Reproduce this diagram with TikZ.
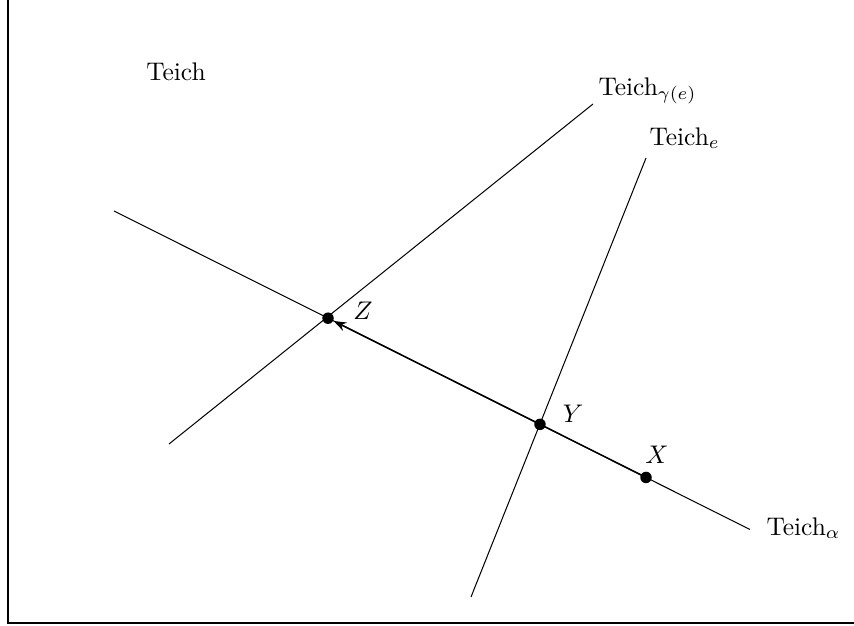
\documentclass[tikz,border=0pt]{standalone}
\usetikzlibrary{arrows.meta,calc}
\begin{document}
\begin{tikzpicture}[x=0.0138cm,y=-0.0138cm,
  dot/.style={circle,fill=black,inner sep=0pt,minimum size=4.5pt},
  lbl/.style={inner sep=0pt}]
\useasboundingbox (0,0) rectangle (854,626);
\draw[line width=0.8pt] (8,0) -- (8,623) -- (854,623);
% endpoints
\coordinate (a1) at (114,211);
\coordinate (a2) at (750,529.5);
\coordinate (g1) at (169,444);
\coordinate (g2) at (593,104);
\coordinate (e1) at (471,597);
\coordinate (e2) at (646,158);
\node[dot] (Z) at ($(a1)!0.3365!(a2)$) {};
\node[dot] (Y) at ($(a1)!0.6698!(a2)$) {};
\node[dot] (X) at ($(a1)!0.8365!(a2)$) {};
\draw (a1) -- (a2);
\draw (g1) -- (g2);
\draw (e1) -- (e2);
\draw[-{Stealth[length=5pt,width=3.6pt]}, line width=0.6pt] (X.center) -- (Z);
\node[lbl] (tZ) at (363,311) {$Z$};
\node[lbl] (tY) at (573,414) {$Y$};
\node[lbl] (tX) at (657,455) {$X$};
\node[lbl,anchor=base] (t0) at (176,80) {Teich};
\node[lbl,anchor=base west] (tg) at (598,95) {Teich$_{\gamma(e)}$};
\node[lbl,anchor=base west] (te) at (649,145) {Teich$_{e}$};
\node[lbl,anchor=base west] (ta) at (766,535) {Teich$_{\alpha}$};
\end{tikzpicture}
\end{document}
